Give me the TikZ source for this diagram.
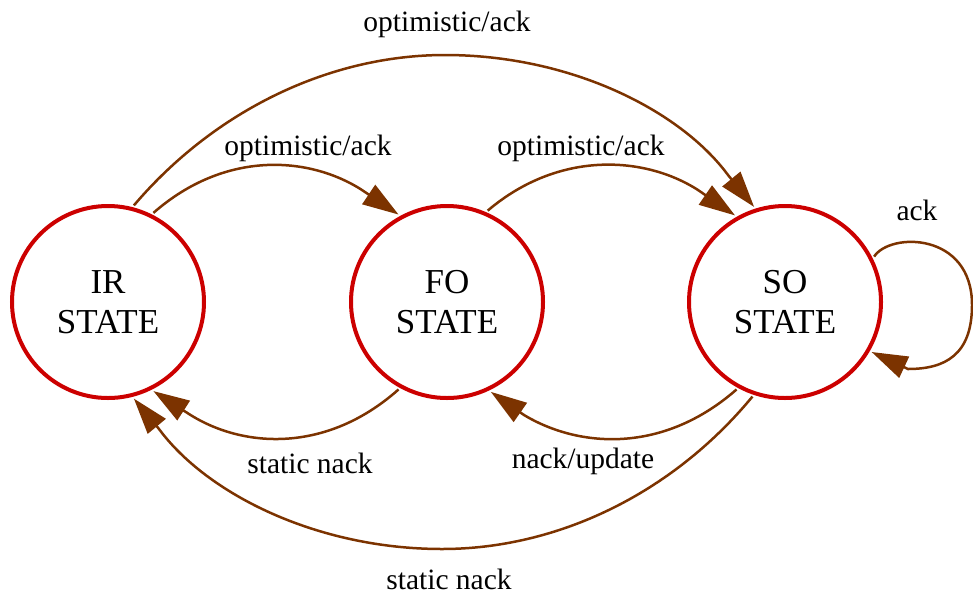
\documentclass[tikz,border=0pt]{standalone}
\usepackage{fontspec}
\setmainfont{Liberation Serif}
\usetikzlibrary{arrows.meta}
\definecolor{stred}{RGB}{204,0,0}
\definecolor{edgebrown}{RGB}{124,51,0}
\begin{document}
\begin{tikzpicture}[x=1pt,y=-1pt,
  state/.style={circle,draw=stred,line width=4pt,minimum size=192pt,inner sep=0pt,outer sep=4pt,align=center,font=\fontsize{35}{40}\selectfont},
  trans/.style={draw=edgebrown,line width=2.5pt,-{Triangle[length=36pt,width=23pt]}},
  lbl/.style={font=\fontsize{29.5}{34}\selectfont,inner sep=0pt}]
\useasboundingbox (0,0) rectangle (973,595);
\node[state] (IR) at (108,302) {IR\\STATE};
\node[state] (FO) at (447,302) {FO\\STATE};
\node[state] (SO) at (785,302) {SO\\STATE};
\draw[trans] (IR.63.4) .. controls (225,150) and (309,156) .. (362,190) -- (FO.119);
\draw[trans] (FO.66) .. controls (559,150) and (645,156) .. (698,190) -- (SO.120);
\draw[trans] (IR.75) .. controls (215,110) and (330,55) .. (445,55) .. controls (570,55) and (680,110) .. (728,175) -- (SO.108);
\draw[trans] (SO.27) .. controls (890,232) and (972,232) .. (972,305) .. controls (972,355) and (945,369) .. (908,369) -- (SO.-30);
\draw[trans] (FO.241.4) .. controls (326,454) and (242,448) .. (189,414) -- (IR.-63.7);
\draw[trans] (SO.241) .. controls (663,454) and (579,448) .. (524,415) -- (FO.-64.7);
\draw[trans] (SO.251.8) .. controls (672,494) and (557,549) .. (442,549) .. controls (317,549) and (207,494) .. (159,429) -- (IR.-75.5);
\node[lbl] (l1) at (447,24) {optimistic/ack};
\node[lbl] (l2) at (308,148) {optimistic/ack};
\node[lbl] (l3) at (581,148) {optimistic/ack};
\node[lbl] (l4) at (917,210) {ack};
\node[lbl] (l5) at (310,463) {static nack};
\node[lbl] (l6) at (583,461) {nack/update};
\node[lbl] (l7) at (449,579) {static nack};
\end{tikzpicture}
\end{document}
